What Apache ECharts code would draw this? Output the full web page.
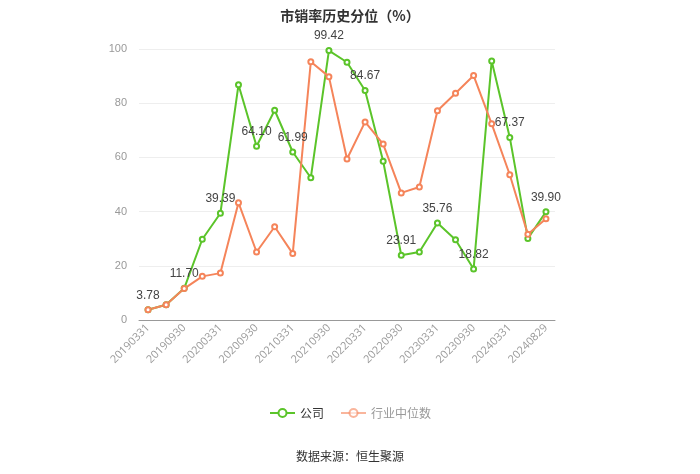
<!DOCTYPE html>
<html><head><meta charset="utf-8">
<script src="https://cdn.jsdelivr.net/npm/echarts@6/dist/echarts.min.js"></script>
<style>html,body{margin:0;padding:0;background:#fff}#c{width:700px;height:474px}</style>
</head><body><div id="c"></div>
<script>
var categories = ['20190331','20190630','20190930','20191231','20200331','20200630','20200930','20201231','20210331','20210630','20210930','20211231','20220331','20220630','20220930','20221231','20230331','20230630','20230930','20231231','20240331','20240630','20240829'];
var company = [3.78,5.6,11.70,29.8,39.39,86.8,64.10,77.4,61.99,52.5,99.42,95.1,84.67,58.6,23.91,25.1,35.76,29.6,18.82,95.6,67.37,30.1,39.90];
var industry = [3.78,5.65,11.6,16.1,17.3,43.3,25.1,34.4,24.5,95.3,89.8,59.4,73.1,64.9,46.9,49.1,77.2,83.7,90.2,72.4,53.6,31.6,37.4];
var yTicks = {min:0, max:100, interval:20};

var chart = echarts.init(document.getElementById('c'));
chart.setOption({
  animation:false,
  title:{text:'市销率历史分位（%）', left:'center', top:4,
    textStyle:{fontSize:14, fontWeight:'bold', color:'#333', fontFamily:'"Noto Sans CJK SC", sans-serif'}},
  graphic:[{type:'text', left:'center', top:450, style:{text:'数据来源：恒生聚源', fill:'#333', fontSize:12, fontFamily:'"Noto Sans CJK SC", sans-serif'}}],
  legend:{bottom:50, left:'center', itemGap:16, itemWidth:25, itemHeight:10,
    textStyle:{fontSize:12, color:'#333', fontFamily:'"Noto Sans CJK SC", sans-serif'},
    data:[{name:'公司'},{name:'行业中位数', textStyle:{color:'#999'}, itemStyle:{opacity:0.6}, lineStyle:{opacity:0.6}}]},
  grid:{left:139, right:145, top:49, bottom:154},
  xAxis:{type:'category', data:categories, boundaryGap:true,
    axisLine:{lineStyle:{color:'#999'}},
    axisTick:{alignWithLabel:true, interval:1, lineStyle:{color:'#999'}},
    axisLabel:{interval:1, rotate:45, color:'#999', fontSize:11, margin:6, fontFamily:'"Open Sans", sans-serif'}},
  yAxis:{type:'value', min:yTicks.min, max:yTicks.max, interval:yTicks.interval,
    axisLine:{show:false}, axisTick:{show:false},
    axisLabel:{color:'#999', fontSize:11, margin:12},
    splitLine:{lineStyle:{color:'#eee'}}},
  series:[
    {name:'公司', type:'line', data:company, symbol:'emptyCircle', symbolSize:5,
      itemStyle:{color:'#5bc42a', borderColor:'#5bc42a', borderWidth:1.5},
      lineStyle:{width:2, color:'#5bc42a'},
      label:{show:true, position:'top', color:'#444', fontSize:12,
        formatter:function(p){return p.dataIndex%2===0 ? p.value.toFixed(2) : '';}}},
    {name:'行业中位数', type:'line', data:industry, symbol:'emptyCircle', symbolSize:5,
      itemStyle:{color:'#f5845a', borderColor:'#f5845a', borderWidth:1.5},
      lineStyle:{width:2, color:'#f5845a'}}
  ]
});
</script></body></html>
